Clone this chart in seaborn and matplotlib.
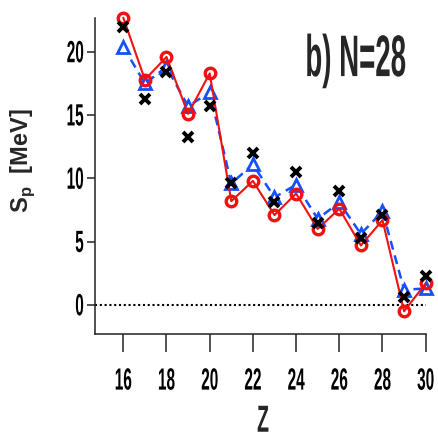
import matplotlib
matplotlib.use("Agg")
import matplotlib.pyplot as plt
from matplotlib.patheffects import AbstractPathEffect
from matplotlib.transforms import Affine2D
import numpy as np
import pandas as pd
import seaborn as sns

# Proton separation energies along the N=28 isotone chain
Z = [16, 17, 18, 19, 20, 21, 22, 23, 24, 25, 26, 27, 28, 29, 30]
sp_red = [22.7, 17.8, 19.6, 15.1, 18.3, 8.2, 9.8, 7.1, 8.8, 6.0, 7.6, 4.7, 6.7, -0.5, 1.7]
sp_blue = [20.4, 17.5, 18.8, 15.7, 16.8, 9.6, 11.1, 8.5, 9.5, 6.8, 8.1, 5.6, 7.4, 1.2, 1.3]
sp_black = [22.0, 16.3, 18.4, 13.3, 15.7, 9.6, 12.0, 8.1, 10.5, 6.5, 9.0, 5.3, 7.1, 0.6, 2.3]

xticks = [16, 18, 20, 22, 24, 26, 28, 30]
yticks = [0, 5, 10, 15, 20]

df = pd.DataFrame({"Z": Z, "red": sp_red, "blue": sp_blue, "black": sp_black})


class Stretch(AbstractPathEffect):
    """Rescale glyph outlines around an anchor point of the glyph extents.

    ax_frac / ay_frac are fractions of the outline extents; ay_frac=None keeps
    the baseline fixed.
    """

    def __init__(self, sx=1.0, sy=1.0, ax_frac=0.5, ay_frac=None):
        super().__init__()
        self.sx, self.sy = sx, sy
        self.ax_frac, self.ay_frac = ax_frac, ay_frac

    def draw_path(self, renderer, gc, tpath, affine, rgbFace=None):
        ext = tpath.get_extents()
        x0 = ext.x0 + self.ax_frac * (ext.x1 - ext.x0)
        y0 = 0.0 if self.ay_frac is None else ext.y0 + self.ay_frac * (ext.y1 - ext.y0)
        t = (Affine2D().translate(-x0, -y0).scale(self.sx, self.sy)
             .translate(x0, y0) + affine)
        renderer.draw_path(gc, tpath, t, rgbFace)


sns.set_style("ticks")
plt.rcParams["font.family"] = ["Liberation Sans", "DejaVu Sans"]
plt.rcParams["mathtext.fontset"] = "custom"
plt.rcParams["mathtext.rm"] = "Liberation Sans"
plt.rcParams["mathtext.bf"] = "Liberation Sans:bold"

fig = plt.figure(figsize=(4.39, 4.33), dpi=100)
ax = fig.add_axes([0.2164, 0.2286, 0.7533, 0.7291])

red = "#f21010"
blue = "#1450ff"

sns.lineplot(data=df, x="Z", y="blue", ax=ax, color=blue, lw=1.8,
             linestyle=(0, (3.6, 2.4)), marker="^", markersize=8.5,
             markerfacecolor="white", markeredgecolor=blue, markeredgewidth=2.0,
             clip_on=False, zorder=3)
sns.lineplot(data=df, x="Z", y="red", ax=ax, color=red, lw=1.5,
             marker="o", markersize=7.6, markerfacecolor="none",
             markeredgecolor=red, markeredgewidth=2.4, clip_on=False, zorder=4)
sns.lineplot(data=df, x="Z", y="black", ax=ax, color="black", linestyle="none",
             marker="x", markersize=7.6, markeredgecolor="black",
             markeredgewidth=2.8, clip_on=False, zorder=5)

ax.axhline(0, color="black", lw=1.5, linestyle=(0, (1, 1.3)), zorder=2)

ax.set_xlim(14.69, 30.0)
ax.set_ylim(-2.3, 22.65)
ax.set_xticks(xticks)
ax.set_yticks(yticks)

for side in ("top", "right"):
    ax.spines[side].set_visible(False)
for side in ("left", "bottom"):
    ax.spines[side].set_linewidth(1.1)
    ax.spines[side].set_color("#222222")

ax.tick_params(axis="x", direction="out", length=13, width=1.1, pad=12,
               labelsize=14, colors="#222222", labelcolor="black")
ax.tick_params(axis="y", direction="out", length=6, width=1.1, pad=2,
               labelsize=14, colors="#222222", labelcolor="black")

ax.set_xlabel("Z", fontsize=16, fontweight="bold")
ax.xaxis.set_label_coords(0.508, -0.225)
ax.set_ylabel(r"S$_\mathbf{p}$  [MeV]", fontsize=17, fontweight="bold")
ax.yaxis.set_label_coords(-0.175, 0.55)

title = ax.text(0.635, 0.817, "b) N=28", transform=ax.transAxes,
                ha="left", va="baseline", fontsize=24, fontweight="bold")

fig.canvas.draw()
for lbl in ax.get_xticklabels():
    lbl.set_fontweight("bold")
    lbl.set_path_effects([Stretch(0.79, 1.58, 0.5, 1.0)])
for lbl in ax.get_yticklabels():
    lbl.set_fontweight("bold")
    lbl.set_path_effects([Stretch(0.79, 1.58, 1.0, 0.5)])
ax.xaxis.label.set_path_effects([Stretch(0.88, 1.7, 0.5, 1.0)])
title.set_path_effects([Stretch(0.83, 1.76, 0.0, None)])

fig.savefig("out.png", dpi=100)
